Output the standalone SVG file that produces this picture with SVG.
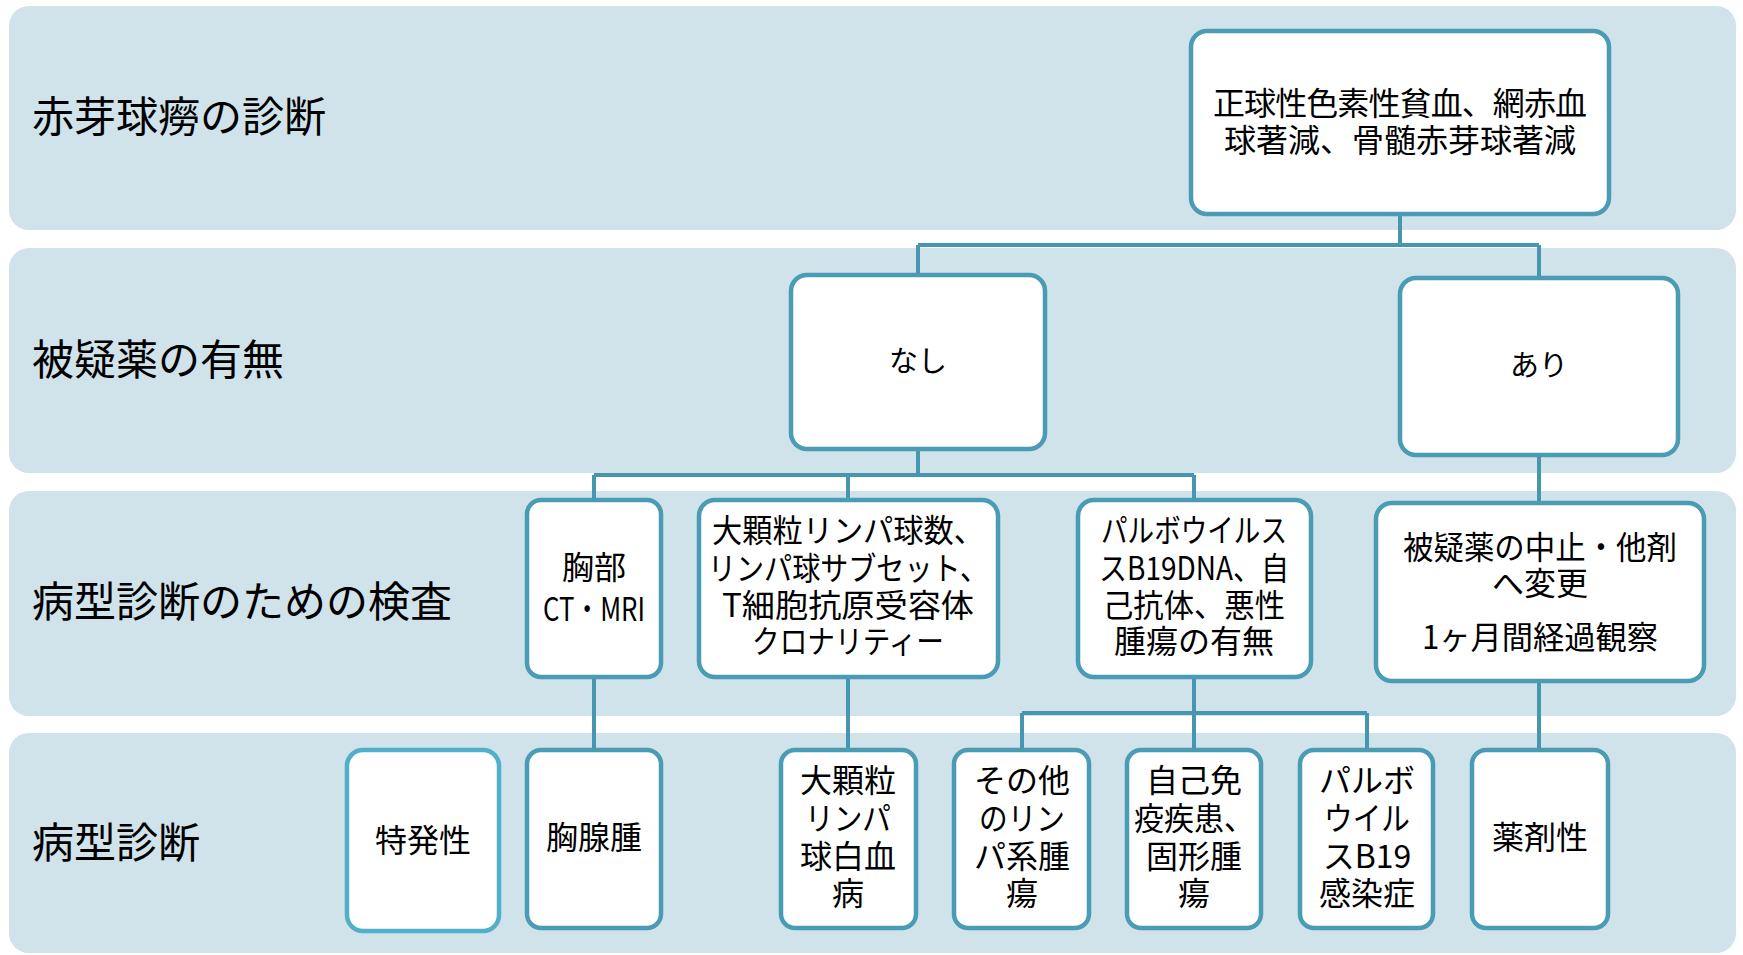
<svg xmlns="http://www.w3.org/2000/svg" width="1743" height="955" viewBox="0 0 1743 955">
<style>
.band{fill:#d0e2ea}
.node{fill:#ffffff;stroke:#4a9cb4;stroke-width:4.5}
.light{stroke:#52afca}
.conn{fill:none;stroke:#4596ae;stroke-width:4}
text{font-family:"Noto Sans CJK JP","Noto Sans",sans-serif;fill:#000;dominant-baseline:central}
.lbl{font-size:42px}
.t{font-size:32px;text-anchor:middle}
.s{font-size:29px;text-anchor:middle}
</style>
<rect width="1743" height="955" fill="#ffffff"/>
<g id="bands">
<rect class="band" x="9" y="6" width="1727" height="224" rx="20"/>
<rect class="band" x="9" y="248" width="1727" height="225" rx="20"/>
<rect class="band" x="9" y="491" width="1727" height="225" rx="20"/>
<rect class="band" x="9" y="733" width="1727" height="220" rx="20"/>
</g>
<g id="band-labels">
<text class="lbl" x="32" y="113">赤芽球癆の診断</text>
<text class="lbl" x="32" y="356">被疑薬の有無</text>
<text class="lbl" x="32" y="598">病型診断のための検査</text>
<text class="lbl" x="32" y="839">病型診断</text>
</g>
<g id="connectors">
<path class="conn" d="M1400 215V245M918 245H1539M918 245V274M1539 245V277"/>
<path class="conn" d="M918 450V475M594 475H1194M594 475V499M848 475V499M1194 475V499"/>
<path class="conn" d="M1539 456V502"/>
<path class="conn" d="M594 678V749M848 678V749"/>
<path class="conn" d="M1194 678V713M1022 713H1367M1022 713V749M1194 713V749M1367 713V749"/>
<path class="conn" d="M1539 682V749"/>
</g>
<g id="n-top">
<rect class="node" x="1191" y="31" width="418" height="183" rx="16"/>
<text class="t"><tspan x="1400" y="101" textLength="374">正球性色素性貧血、網赤血</tspan><tspan x="1400" y="138">球著減、骨髄赤芽球著減</tspan></text>
</g>
<g id="n-nashi">
<rect class="node" x="791" y="275" width="254" height="174" rx="16"/>
<text class="s" x="918" y="359">なし</text>
</g>
<g id="n-ari">
<rect class="node" x="1400" y="278" width="278" height="177" rx="16"/>
<text class="s" x="1539" y="363">あり</text>
</g>
<g id="n-chest">
<rect class="node" x="527" y="500" width="134" height="177" rx="14"/>
<text class="t"><tspan x="594" y="565">胸部</tspan><tspan x="594" y="607" textLength="102" lengthAdjust="spacingAndGlyphs">CT・MRI</tspan></text>
</g>
<g id="n-lgl">
<rect class="node" x="699" y="500" width="299" height="177" rx="16"/>
<text class="t"><tspan x="848" y="528" textLength="272" lengthAdjust="spacingAndGlyphs">大顆粒リンパ球数、</tspan><tspan x="848" y="566" textLength="280" lengthAdjust="spacingAndGlyphs">リンパ球サブセット、</tspan><tspan x="848" y="603" textLength="252" lengthAdjust="spacingAndGlyphs">T細胞抗原受容体</tspan><tspan x="848" y="639" textLength="192" lengthAdjust="spacingAndGlyphs">クロナリティー</tspan></text>
</g>
<g id="n-parvo-test">
<rect class="node" x="1078" y="500" width="233" height="177" rx="16"/>
<text class="t"><tspan x="1194" y="528" textLength="186" lengthAdjust="spacingAndGlyphs">パルボウイルス</tspan><tspan x="1194" y="566" textLength="190" lengthAdjust="spacingAndGlyphs">スB19DNA、自</tspan><tspan x="1194" y="603" textLength="182" lengthAdjust="spacingAndGlyphs">己抗体、悪性</tspan><tspan x="1194" y="639">腫瘍の有無</tspan></text>
</g>
<g id="n-stop">
<rect class="node" x="1376" y="503" width="328" height="178" rx="16"/>
<text class="t"><tspan x="1540" y="545" textLength="274" lengthAdjust="spacingAndGlyphs">被疑薬の中止・他剤</tspan><tspan x="1540" y="581">へ変更</tspan></text>
<text class="t" x="1540" y="635" textLength="236" lengthAdjust="spacingAndGlyphs">1ヶ月間経過観察</text>
</g>
<g id="n-idio">
<rect class="node light" x="347" y="750" width="152" height="181" rx="16"/>
<text class="t" x="423" y="838">特発性</text>
</g>
<g id="n-thymoma">
<rect class="node" x="527" y="750" width="134" height="178" rx="14"/>
<text class="t" x="594" y="835">胸腺腫</text>
</g>
<g id="n-lgll">
<rect class="node" x="781" y="750" width="135" height="178" rx="14"/>
<text class="t"><tspan x="848" y="778">大顆粒</tspan><tspan x="848" y="816" textLength="86" lengthAdjust="spacingAndGlyphs">リンパ</tspan><tspan x="848" y="854">球白血</tspan><tspan x="848" y="891">病</tspan></text>
</g>
<g id="n-lymphoma">
<rect class="node" x="954" y="750" width="135" height="178" rx="14"/>
<text class="t"><tspan x="1022" y="778">その他</tspan><tspan x="1022" y="816" textLength="86" lengthAdjust="spacingAndGlyphs">のリン</tspan><tspan x="1022" y="854">パ系腫</tspan><tspan x="1022" y="891">瘍</tspan></text>
</g>
<g id="n-autoimmune">
<rect class="node" x="1127" y="750" width="134" height="178" rx="14"/>
<text class="t"><tspan x="1194" y="778">自己免</tspan><tspan x="1194" y="816" textLength="120" lengthAdjust="spacingAndGlyphs">疫疾患、</tspan><tspan x="1194" y="854">固形腫</tspan><tspan x="1194" y="891">瘍</tspan></text>
</g>
<g id="n-parvo">
<rect class="node" x="1300" y="750" width="133" height="178" rx="14"/>
<text class="t"><tspan x="1367" y="778">パルボ</tspan><tspan x="1367" y="816" textLength="86" lengthAdjust="spacingAndGlyphs">ウイル</tspan><tspan x="1367" y="854">スB19</tspan><tspan x="1367" y="891">感染症</tspan></text>
</g>
<g id="n-drug">
<rect class="node" x="1472" y="750" width="136" height="178" rx="14"/>
<text class="t" x="1540" y="835">薬剤性</text>
</g>
</svg>
